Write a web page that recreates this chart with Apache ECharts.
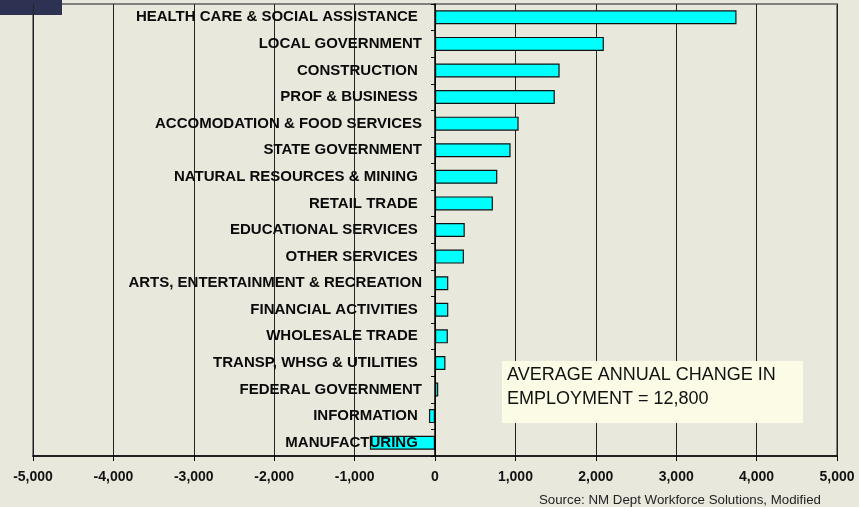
<!DOCTYPE html>
<html>
<head>
<meta charset="utf-8">
<script src="https://cdn.jsdelivr.net/npm/echarts@6/dist/echarts.min.js"></script>
<style>
html,body{margin:0;padding:0;background:#e9e8dc;}
#chart{width:859px;height:507px;}
</style>
</head>
<body>
<div id="chart"></div>
<script>
const categories = [
  "HEALTH CARE & SOCIAL ASSISTANCE ",
  "LOCAL GOVERNMENT",
  "CONSTRUCTION ",
  "PROF & BUSINESS ",
  "ACCOMODATION & FOOD SERVICES",
  "STATE GOVERNMENT",
  "NATURAL RESOURCES & MINING ",
  "RETAIL TRADE ",
  "EDUCATIONAL SERVICES ",
  "OTHER SERVICES ",
  "ARTS, ENTERTAINMENT & RECREATION",
  "FINANCIAL ACTIVITIES ",
  "WHOLESALE TRADE ",
  "TRANSP, WHSG & UTILITIES ",
  "FEDERAL GOVERNMENT",
  "INFORMATION ",
  "MANUFACTURING "
];
const values = [3750, 2100, 1550, 1490, 1040, 940, 775, 720, 370, 360, 165, 165, 160, 130, 40, -75, -810];
const xTicks = { min: -5000, max: 5000, interval: 1000 };
const noteLines = ["AVERAGE ANNUAL CHANGE IN", "EMPLOYMENT = 12,800"];
const sourceText = "Source: NM Dept Workforce Solutions, Modified";

const chart = echarts.init(document.getElementById('chart'));
chart.setOption({
  backgroundColor: '#e9e8dc',
  animation: false,
  grid: {
    left: 33, right: 22, top: 4, bottom: 51, containLabel: false, outerBoundsMode: 'none',
    show: true, borderColor: '#808080', borderWidth: 2, backgroundColor: 'transparent'
  },
  xAxis: {
    type: 'value', min: xTicks.min, max: xTicks.max, interval: xTicks.interval,
    axisLine: { show: true, lineStyle: { color: '#000', width: 1.5 } },
    axisTick: { show: true, length: 5, lineStyle: { color: '#000' } },
    axisLabel: {
      color: '#111', fontFamily: 'Liberation Sans, Arial', fontWeight: 'bold', fontSize: 14, margin: 14,
      formatter: v => v.toLocaleString('en-US')
    },
    splitLine: { show: true, lineStyle: { color: '#222', width: 1 } }
  },
  yAxis: {
    type: 'category', data: categories, inverse: true, z: 10,
    axisLine: { show: true, onZero: true, lineStyle: { color: '#000', width: 1.5 } },
    axisTick: { show: true, length: 4, lineStyle: { color: '#000' } },
    axisLabel: { show: false },
    splitLine: { show: false }
  },
  series: [{
    type: 'bar', data: values, barWidth: 14, z: 2,
    itemStyle: { color: '#00ffff', borderColor: '#111', borderWidth: 1.2 }
  }, {
    type: 'scatter', symbolSize: 0, z: 10, silent: true,
    itemStyle: { opacity: 1 },
    data: categories.map((c, i) => [0, c]),
    label: {
      show: true, position: 'left', distance: 13, opacity: 1,
      formatter: p => categories[p.dataIndex],
      color: '#0a0a0a', fontFamily: 'Liberation Sans, Arial', fontWeight: 'bold', fontSize: 15
    }
  }],
  graphic: [
    { type: 'rect', left: 0, top: 0, shape: { width: 62, height: 15 }, style: { fill: '#2d3152' }, z: 0 },
    { type: 'rect', left: 502, top: 361, shape: { width: 301, height: 62 }, style: { fill: '#fbfbe6' }, z: 20 },
    { type: 'text', left: 507, top: 363, style: { text: noteLines.join('\n'), font: '18px "Liberation Sans", Arial', fill: '#111', lineHeight: 24 }, z: 21 },
    { type: 'text', right: 38, top: 494, style: { text: sourceText, font: '13.3px "Liberation Sans", Arial', fill: '#222' }, z: 21 }
  ]
});
</script>
</body>
</html>
